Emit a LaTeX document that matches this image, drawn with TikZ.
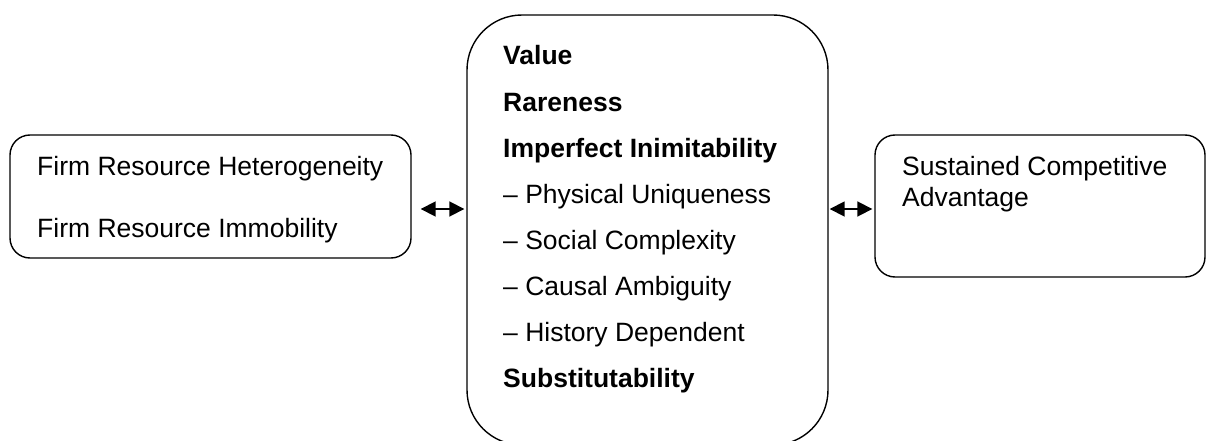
\documentclass[tikz,border=0pt]{standalone}
\usepackage{fontspec}
\setmainfont{Liberation Sans}
\usetikzlibrary{arrows.meta}
\begin{document}
\begin{tikzpicture}[x=1pt,y=-1pt,
  box/.style={draw, line width=1.4pt, rectangle, inner sep=0pt},
  txt/.style={anchor=base west, inner sep=0pt, font=\fontsize{26.5}{31}\selectfont},
  btxt/.style={txt, font=\fontsize{26.5}{31}\selectfont\bfseries},
  link/.style={line width=1.8pt, {Triangle[length=15pt,width=15pt]}-{Triangle[length=15pt,width=15pt]}}]
\useasboundingbox (0,0) rectangle (1206,441);
\clip (0,0) rectangle (1206,441);

% the three boxes
\node[box, rounded corners=20pt, minimum width=401pt, minimum height=123pt] (left) at (210.5,196.5) {};
\node[box, rounded corners=55pt, minimum width=361pt, minimum height=430pt] (mid) at (647.5,230) {};
\node[box, rounded corners=20pt, minimum width=330pt, minimum height=142pt] (right) at (1040,206) {};

% left box text
\node[txt] (h1) at (37,175) {Firm Resource Heterogeneity};
\node[txt] (h2) at (37,237) {Firm Resource Immobility};

% middle box text
\node[btxt] (m1) at (503,65) {Value};
\node[btxt] (m2) at (503,111) {Rareness};
\node[btxt] (m3) at (503,157) {Imperfect Inimitability};
\node[txt] (m4) at (503,203) {– Physical Uniqueness};
\node[txt] (m5) at (503,249) {– Social Complexity};
\node[txt] (m6) at (503,295) {– Causal Ambiguity};
\node[txt] (m7) at (503,341) {– History Dependent};
\node[btxt] (m8) at (503,387) {Substitutability};

% right box text
\node[txt] (r1) at (902,175) {Sustained Competitive};
\node[txt] (r2) at (902,206) {Advantage};

% connectors
\coordinate (la) at (left.east |- 0,209);
\coordinate (lb) at (mid.west |- 0,209);
\coordinate (ra) at (mid.east |- 0,209);
\coordinate (rb) at (right.west |- 0,209);
\draw[link, shorten <=9pt, shorten >=2pt] (la) -- (lb);
\draw[link, shorten <=1pt, shorten >=2pt] (ra) -- (rb);
\end{tikzpicture}
\end{document}
